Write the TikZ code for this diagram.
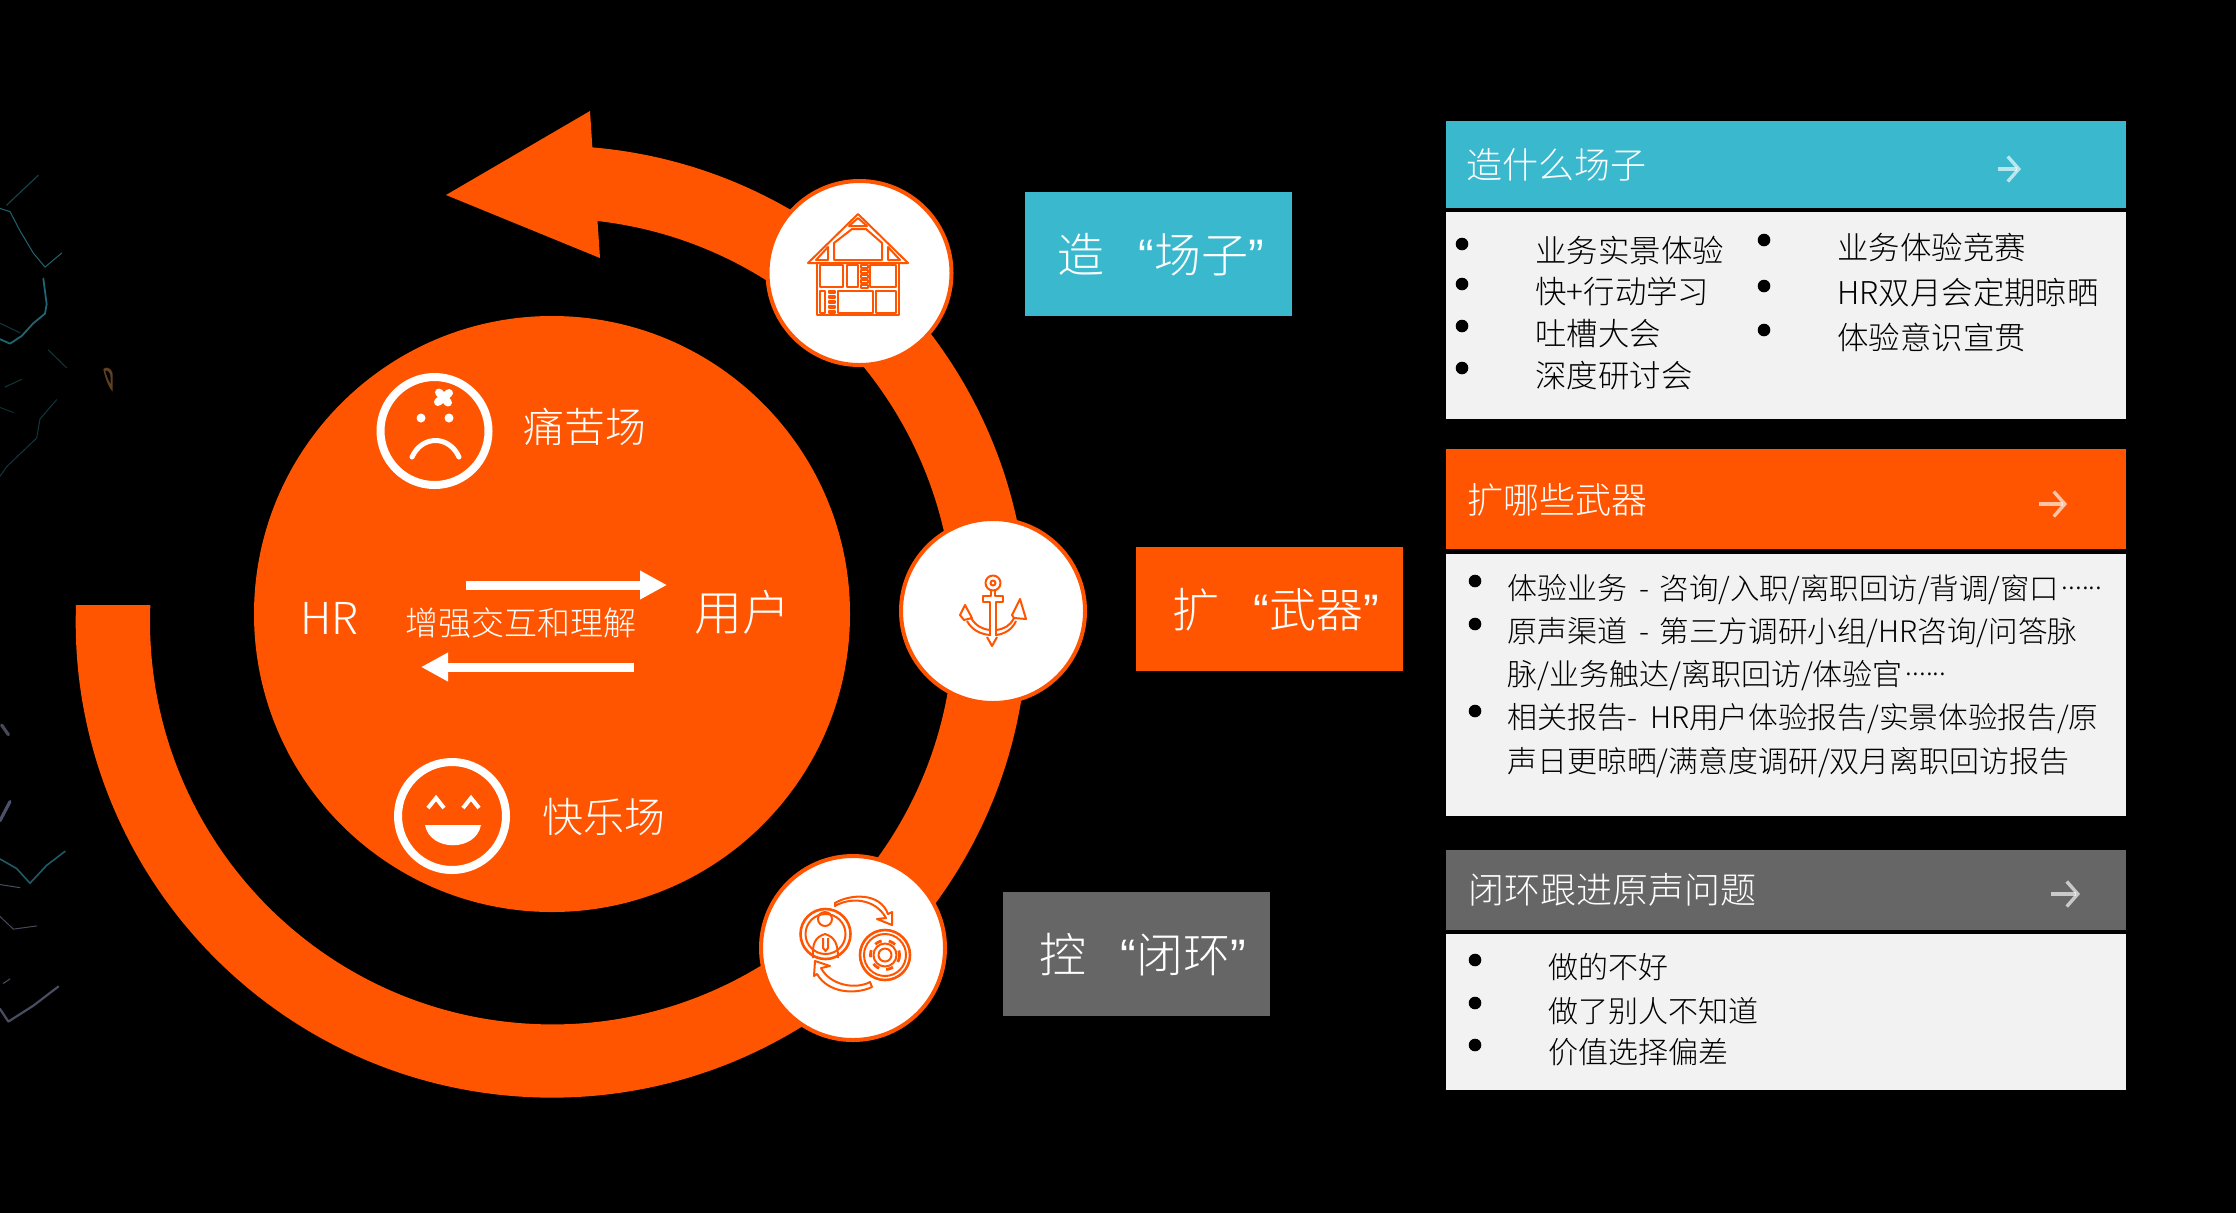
\documentclass[tikz,border=0pt]{standalone}
\usepackage{fontspec}
\setmainfont{Noto Sans CJK SC}[UprightFont=* Light]
\newfontfamily\quotefont{Liberation Sans}
\usetikzlibrary{arrows.meta}
\definecolor{org}{HTML}{FF5500}
\definecolor{cyanb}{HTML}{3AB8CE}
\definecolor{greyb}{HTML}{666666}
\definecolor{panel}{HTML}{F2F2F2}
\tikzset{
 wtext/.style={text=white,inner sep=0pt,font=\fontsize{#1}{#1}\selectfont},
 btext/.style={text=black,inner sep=0pt,anchor=west,font=\fontsize{#1}{#1}\selectfont},
 lab/.style={fill=#1,minimum width=133.5pt,minimum height=62pt,inner sep=0pt,anchor=north west},
 disc/.style={circle,fill=white,draw=org,line width=2pt,minimum size=92pt,inner sep=0pt},
 face/.style={circle,draw=white,line width=4pt,minimum size=54pt,inner sep=0pt},
 icon/.style={draw=org,line width=1pt,line join=round,fill=none},
 bul/.style={circle,fill=black,inner sep=0pt,minimum size=6.3pt},
 hd/.style={fill=#1,anchor=north west,inner sep=0pt,minimum width=340pt},
 flow/.style={white,line width=4.5pt,-{Triangle[length=13.5pt,width=13.5pt]}},
 hdarrow/.style={white,opacity=.65,line width=1.7pt,-{Straight Barb[length=5.5pt,width=12.5pt,line width=1.7pt]}},
 vein/.style={line width=.5pt,line cap=round,line join=round,preaction={draw,opacity=.3,line width=2pt}},
}
\newcommand{\myopenq}{{\quotefont “}}
\newcommand{\mycloseq}{{\quotefont ”}}
\newcommand{\cdotsix}{\hspace{1.5pt}\raisebox{5pt}{\fontsize{13.5}{13.5}\selectfont ......}}
\newcommand{\sz}[1]{\fontsize{#1}{#1}\selectfont}
\begin{document}
\begin{tikzpicture}[x=.5pt,y=-.5pt]
\useasboundingbox (0,0) rectangle (2236,1212);
\fill[black] (-6,-6) rectangle (2242,1220);
% marble veins
\begin{scope}[x=.16667pt,y=-.3189pt,yshift=-50pt]
\draw[vein,color=cyanb!55!black] (0,170)--(30,175)--(60,205)--(100,240)--(135,262)--(185,240);
\draw[vein,color=cyanb!40!black] (20,165)--(50,150)--(115,118);
\draw[vein,color=cyanb!55!black,line width=.9pt] (130,280)--(140,320)--(135,335)--(100,350)--(65,370)--(30,382)--(0,375);
\draw[vein,color=cyanb!30!black] (0,350)--(60,365);
\draw[vein,color=cyanb!30!black] (145,392)--(200,420);
\draw[vein,color=cyanb!30!black] (15,450)--(65,438);
\draw[vein,color=cyanb!25!black] (0,482)--(40,490);
\draw[vein,color=cyanb!30!black] (0,590)--(20,575)--(110,530)--(120,500)--(170,470);
\draw[vein,color=cyan!40!blue!30!black,line width=1.6pt] (5,980)--(25,995);
\draw[vein,color=cyan!40!blue!40!black,line width=1.6pt] (0,1130)--(30,1100);
\draw[vein,color=cyanb!50!black,line width=.8pt] (0,1190)--(50,1205)--(90,1228)--(140,1200)--(195,1178);
\draw[vein,color=cyan!40!blue!35!black] (0,1230)--(60,1235);
\draw[vein,color=cyan!40!blue!30!black] (0,1280)--(40,1300)--(110,1295);
\draw[vein,color=cyan!40!blue!35!black,line width=1.1pt] (0,1425)--(25,1445)--(100,1420)--(175,1390);
\draw[vein,color=cyan!40!blue!35!black] (10,1385)--(30,1378);
\fill[brown!50!black] (310,422)..controls (325,415) and (338,425)..(338,430)--(338,457)..controls (325,450) and (315,435)..(310,422);
\fill[black] (316,425)..controls (325,422) and (332,430)..(332,436)--(332,445)..controls (325,440) and (320,432)..(316,425);
\end{scope}
% ring with arrowhead
\fill[org] (76,605) arc[start angle=182,end angle=-85.1,radius=476]
 -- (590,111) -- (446,195) -- (600,258) -- (597.5,221)
 arc[start angle=-83.5,end angle=182.3,x radius=402,y radius=403] -- cycle;
% centre disc
\node[circle,fill=org,minimum size=298pt,inner sep=0pt] (core) at (552,614) {};
% sad face
\node[face] (sad) at (434.5,431) {};
\fill[white] (421,418) circle[radius=4.5] (449,418) circle[radius=4.5];
\draw[white,line width=2.5pt,line cap=round] (412,457) .. controls (422,435) and (449,435) .. (459,457);
\draw[white,line width=4pt,line cap=round] (439,392.5)--(448,402.5) (449,393)--(438,402);
\node[wtext=20.5] (t1) at (585,427) {痛苦场};
% happy face
\node[face] (hap) at (452,816) {};
\draw[white,line width=2pt] (428,808)--(436,798)--(444,808) (463,808)--(471,798)--(479,808);
\fill[white] (425,825) -- (481,825) .. controls (476,852) and (430,852) .. (425,825) -- cycle;
\node[wtext=20.5] (t2) at (604,817) {快乐场};
% centre
\node[wtext=22] (hr) at (329.5,618) {HR};
\node[wtext=24] (user) at (742.5,612) {用户};
\node[wtext=16.5] (mid) at (520.5,623) {增强交互和理解};
\coordinate (a1) at (466,585); \coordinate (a2) at (667,585);
\coordinate (b1) at (634,667); \coordinate (b2) at (421,667);
\draw[flow] (a1)--(a2);
\draw[flow] (b1)--(b2);
% small discs
\node[disc] (d1) at (859.5,273) {};
\node[disc] (d2) at (993,611) {};
\node[disc] (d3) at (853,948) {};
% house icon
\begin{scope}[icon]
 \draw (808,263)--(858,214)--(908,263)--cycle;
 \draw (816,260)--(828,247)--(828,260)--cycle (900,260)--(888,247)--(888,260)--cycle;
 \draw (834,260)--(834,243)--(852,229)--(866,229)--(882,243)--(882,260)--cycle;
 \draw (849,226)--(858,218)--(867,226)--cycle;
 \draw (817,263)--(817,315)--(899,315)--(899,263);
 \draw (820,265) rectangle (843,287) (847,265) rectangle (858,287) (870,265) rectangle (896,287);
 \draw (820,291) rectangle (825,313) (838,291) rectangle (873,313) (876,291) rectangle (896,313);
 \foreach \y in {265,270,275,280,285} \draw (861,\y) rectangle (868,\y+3);
 \foreach \y in {291,296,301,306,311} \draw (829,\y) rectangle (835,\y+2);
\end{scope}
% anchor icon
\begin{scope}[icon]
 \draw (993,583) circle[radius=7.5] (993,583) circle[radius=2.5];
 \draw (991,591)--(991,596)--(983,596)--(983,602)--(990,602)--(990,636);
 \draw (995,591)--(995,596)--(1003,596)--(1003,602)--(996,602)--(996,636);
 \draw (965,605)--(960,615)--(964,620)--(972,618)--cycle;
 \draw (1020,599)--(1012,615)--(1014,618)--(1026,619)--cycle;
 \draw (967,621) .. controls (972,630) and (980,634) .. (990,635);
 \draw (971,618) .. controls (976,626) and (982,629) .. (990,630);
 \draw (1016,621) .. controls (1012,630) and (1004,634) .. (996,635);
 \draw (1014,618) .. controls (1010,626) and (1004,629) .. (996,630);
 \draw (987,637)--(992,646)--(997,637);
\end{scope}
% loop icon
\begin{scope}[icon]
 \draw[line width=1.3pt] (825.5,934) circle[radius=25];
 \draw (825.5,934) circle[radius=20];
 \draw (825,919) circle[radius=7];
 \draw (813,958) .. controls (812,944) and (815,937) .. (825,934) .. controls (835,937) and (838,944) .. (838,958);
 \draw (823,938)--(823,948)--(825.5,951)--(828,948)--(828,938);
 \draw[line width=1.3pt] (885,955) circle[radius=25];
 \draw (885,955) circle[radius=21];
 \draw[line width=1.4pt,dash pattern=on 3.6pt off 3.6pt] (885,955) circle[radius=14.5];
 \draw (885,955) circle[radius=11.5];
 \draw (885,955) circle[radius=6.5];
 \draw (835,906) .. controls (850,897) and (875,898) .. (886,918) -- (877,919) -- (892,925) -- (892,912) -- (888,914)
   .. controls (880,892) and (850,894) .. (835,903) -- cycle;
 \draw (870,982) .. controls (855,990) and (830,985) .. (821,968) -- (830,966) -- (815,961) -- (814,976) -- (817,974)
   .. controls (828,993) and (855,995) .. (872,987) -- cycle;
\end{scope}
% label boxes
\node[lab=cyanb] (l1) at (1025,192) {};
\node[wtext=23.5,anchor=west] (l1t) at (1057,255) {造\hspace{17pt}\myopenq 场子\mycloseq};
\node[lab=org] (l2) at (1136,547) {};
\node[wtext=23.5,anchor=west] (l2t) at (1172,610) {扩\hspace{17pt}\myopenq 武器\mycloseq};
\node[lab=greyb] (l3) at (1003,892) {};
\node[wtext=23.5,anchor=west] (l3t) at (1039,955) {控\hspace{17pt}\myopenq 闭环\mycloseq};
% panels
\node[hd=cyanb,minimum height=43.5pt] (h1) at (1446,121) {};
\node[hd=panel,minimum height=103.5pt] (p1) at (1446,212) {};
\node[hd=org,minimum height=50pt] (h2) at (1446,449) {};
\node[hd=panel,minimum height=131pt] (p2) at (1446,554) {};
\node[hd=greyb,minimum height=40pt] (h3) at (1446,850) {};
\node[hd=panel,minimum height=78pt] (p3) at (1446,934) {};
\node[wtext=18,anchor=west] (h1t) at (1466.5,165) {造什么场子};
\node[wtext=18,anchor=west] (h2t) at (1467.5,500) {扩哪些武器};
\node[wtext=18,anchor=west] (h3t) at (1468.5,890) {闭环跟进原声问题};
\coordinate (ha1) at (1998,169); \coordinate (hb1) at (2021,169);
\coordinate (ha2) at (2039,504); \coordinate (hb2) at (2067,504);
\coordinate (ha3) at (2051,894); \coordinate (hb3) at (2080,894);
\draw[hdarrow] (ha1)--(hb1);
\draw[hdarrow] (ha2)--(hb2);
\draw[hdarrow] (ha3)--(hb3);
% panel 1
\foreach \y in {244,284,326,368} \node[bul] at (1462,\y) {};
\foreach \y in {240,286,330} \node[bul] at (1764,\y) {};
\node[btext=15.7] (a) at (1535,250.5) {业务实景体验};
\node[btext=15.7] (b) at (1535,291.5) {快+行动学习};
\node[btext=15.7] (c) at (1535,333.5) {吐槽大会};
\node[btext=15.7] (d) at (1535,375.5) {深度研讨会};
\node[btext=15.7] (e) at (1837,247) {业务体验竞赛};
\node[btext=15.7] (f) at (1837,293) {HR双月会定期晾晒};
\node[btext=15.7] (g) at (1837,337) {体验意识宣贯};
% panel 2
\foreach \y in {581,624,711} \node[bul] at (1475,\y) {};
\node[btext=15] (m) at (1507,589) {体验业务\hspace{2.5pt} - \hspace{2pt}\sz{14.7}咨询/入职/离职回访/背调/窗口\cdotsix};
\node[btext=15] (n) at (1507,633) {原声渠道\hspace{2.5pt} - \hspace{2pt}\sz{14.8}第三方调研小组/HR咨询/问答脉};
\node[btext=15] (o) at (1507,675.5) {脉/业务触达/离职回访/体验官\cdotsix};
\node[btext=15] (q) at (1507,719) {相关报告- \hspace{3pt}\sz{14.85}HR用户体验报告/实景体验报告/原};
\node[btext=14.95] (r) at (1507,762.5) {声日更晾晒/满意度调研/双月离职回访报告};
% panel 3
\foreach \y in {960,1003,1045} \node[bul] at (1475,\y) {};
\node[btext=15] (s) at (1548,967) {做的不好};
\node[btext=15] (u) at (1548,1011) {做了别人不知道};
\node[btext=15] (v) at (1548,1052) {价值选择偏差};
\end{tikzpicture}
\end{document}
